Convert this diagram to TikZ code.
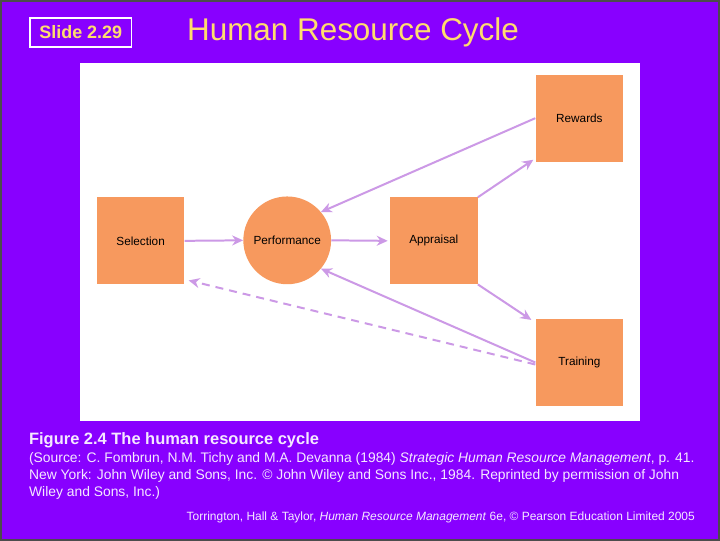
\documentclass[tikz,border=0pt]{standalone}
\usepackage{fontspec}
\setmainfont{Liberation Sans}
\usetikzlibrary{arrows.meta}
\definecolor{bgp}{RGB}{136,0,255}
\definecolor{org}{RGB}{247,153,94}
\definecolor{lav}{RGB}{204,153,230}
\definecolor{ylw}{RGB}{255,220,110}
\definecolor{pw}{RGB}{245,232,255}
\begin{document}
\begin{tikzpicture}[x=1pt,y=-1pt,
  box/.style={fill=org,minimum width=88pt,minimum height=87pt,inner sep=0pt,font=\fontsize{11.8}{13}\selectfont},
  arr/.style={draw=lav,line width=2pt,-{Stealth[length=11pt,width=10pt]}},
  wt/.style={text=pw,anchor=base west,inner sep=0pt}]
\fill[bgp] (0,0) rectangle (720,540);
\draw[black!70,line width=2pt] (0,0) rectangle (720,540);
\useasboundingbox (0,0) rectangle (720,540);
\fill[white] (79,62) rectangle (641,421);
\node[draw=white,line width=1.5pt,minimum width=102pt,minimum height=29pt,inner sep=0pt,text=ylw,font=\bfseries\fontsize{18}{20}\selectfont] (slide) at (80,31.5) {Slide 2.29};
\node[text=ylw,font=\fontsize{31.5}{36}\selectfont] (title) at (353,31) {Human Resource Cycle};
\node[box] (sel) at (140,240.5) {Selection};
\node[circle,fill=org,minimum size=88pt,inner sep=0pt,font=\fontsize{11.8}{13}\selectfont] (perf) at (287,240) {Performance};
\node[box] (app) at (434,240.5) {Appraisal};
\node[box] (rew) at (580,117.5) {Rewards};
\node[box] (tra) at (580,362.5) {Training};
\path[arr] (sel.east) -- (perf.west);
\path[arr] (perf.east) -- ([xshift=-2pt]app.west);
\path[arr] (rew.west) -- (perf.40);
\path[arr] (app.north east) -- ([xshift=-2pt,yshift=2pt]rew.south west);
\path[arr] (app.south east) -- ([xshift=-4pt,yshift=-1pt]tra.north west);
\path[arr] (tra.west) -- (perf.-40);
\path[arr,dashed,dash pattern=on 8pt off 6pt] ([yshift=-2pt]tra.west) -- ([xshift=4pt,yshift=4pt]sel.south east);
\node[wt,font=\bfseries\fontsize{16.5}{20}\selectfont] (cap) at (28,445) {Figure 2.4 The human resource cycle};
\node[wt,font=\fontsize{13.9}{15}\selectfont] (s1) at (28,463) {(Source: C. Fombrun, N.M. Tichy and M.A. Devanna (1984) \textit{Strategic Human Resource Management}, p. 41.};
\node[wt,font=\fontsize{13.9}{15}\selectfont] (s2) at (28,480) {New York: John Wiley and Sons, Inc. © John Wiley and Sons Inc., 1984. Reprinted by permission of John};
\node[wt,font=\fontsize{13.9}{15}\selectfont] (s3) at (28,497) {Wiley and Sons, Inc.)};
\node[wt,font=\fontsize{12}{13}\selectfont] (ft) at (186,521) {Torrington, Hall \& Taylor, \textit{Human Resource Management} 6e, © Pearson Education Limited 2005};
\end{tikzpicture}
\end{document}
